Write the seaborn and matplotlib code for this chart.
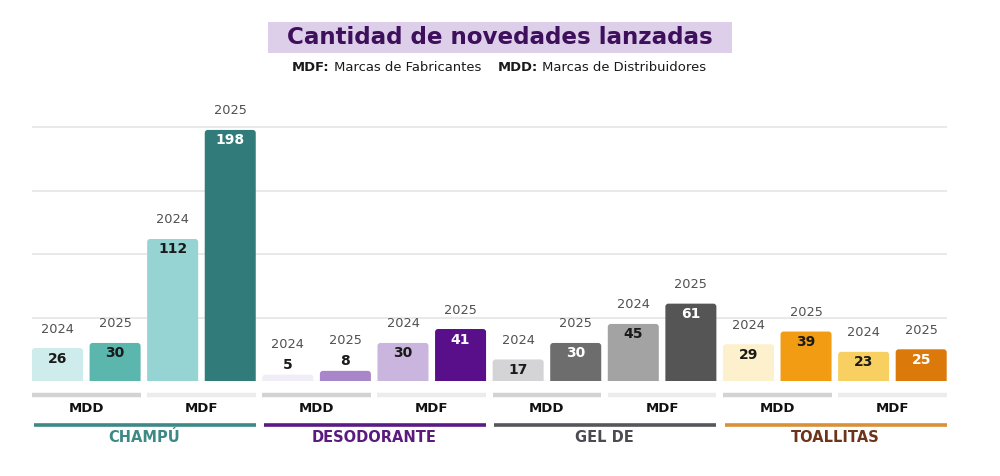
import matplotlib
matplotlib.use("Agg")
import matplotlib.pyplot as plt
import matplotlib.transforms as mtransforms
from matplotlib.patches import FancyBboxPatch
from matplotlib.colors import to_rgb
import seaborn as sns
import pandas as pd

# ---------------- data ----------------
categories = ["CHAMPÚ", "DESODORANTE", "GEL DE", "TOALLITAS"]
brands = ["MDD", "MDF"]
years = ["2024", "2025"]
champu = [26, 30, 112, 198]
desodorante = [5, 8, 30, 41]
gel = [17, 30, 45, 61]
toallitas = [29, 39, 23, 25]
series_values = [champu, desodorante, gel, toallitas]

title_text = "Cantidad de novedades lanzadas"
subtitle_parts = [("MDF:", "bold"), (" Marcas de Fabricantes", "normal"),
                  ("    ", "normal"),
                  ("MDD:", "bold"), (" Marcas de Distribuidores", "normal")]

# ---------------- styles ----------------
bar_colors = [
    "#cdeceb", "#5bb6ae", "#96d4d3", "#327b7b",
    "#f1edf6", "#a986c9", "#cab5de", "#5a0f8a",
    "#d4d4d6", "#6d6d6d", "#a3a3a3", "#555555",
    "#fdf0cc", "#f29c14", "#f8d062", "#db7a0a",
]
cat_line_colors = ["#3d8986", "#5b1a85", "#56565b", "#d8913a"]
cat_text_colors = ["#3d8986", "#5a1a7e", "#4b4b52", "#6e3419"]
brand_line_colors = ["#d3d3d3", "#ececec"]

rows = []
for ci, cat in enumerate(categories):
    for bi, br in enumerate(brands):
        for yi, yr in enumerate(years):
            rows.append({"id": f"{cat}|{br}|{yr}", "cat": cat, "brand": br,
                         "year": yr, "value": series_values[ci][bi * 2 + yi]})
df = pd.DataFrame(rows)
palette = dict(zip(df["id"], bar_colors))

sns.set_theme(style="white")
plt.rcParams["font.family"] = ["DejaVu Sans"]

W, H = 1000, 476
fig = plt.figure(figsize=(W / 100, H / 100), dpi=100)
fig.patch.set_facecolor("white")

left_px, right_px = 32, 946.7
base_px = 381
px_per_unit = 1.268
ytop = 220
ax = fig.add_axes([left_px / W, (H - base_px) / H, (right_px - left_px) / W,
                   ytop * px_per_unit / H])

bw = 0.886
sns.barplot(data=df, x="id", y="value", hue="id", palette=palette,
            width=bw, legend=False, ax=ax, saturation=1, order=list(df["id"]))
ax.set_xlim(-bw / 2, len(df) - 1 + bw / 2)
ax.set_ylim(0, ytop)
ax.set_yticks([50, 100, 150, 200])
ax.yaxis.grid(True, color="#e3e3e3", linewidth=1.1)
ax.set_axisbelow(True)
ax.axhline(0, color="#e8e8e8", linewidth=1, zorder=0)
for s in ax.spines.values():
    s.set_visible(False)
ax.set_xticks([])
ax.tick_params(axis="y", length=0, labelleft=False)
ax.set_xlabel("")
ax.set_ylabel("")

# rounded top corners: replace seaborn rectangles by rounded boxes (bottom clipped)
x_px_per_unit = (right_px - left_px) / (len(df) - 1 + bw)
r_px = 3.0
r_x = r_px / x_px_per_unit
aspect = (r_px / px_per_unit) / r_x
for p in list(ax.patches):
    x, y = p.get_x(), p.get_y()
    w, h = p.get_width(), p.get_height()
    fc = p.get_facecolor()
    ext = 6 / px_per_unit
    fb = FancyBboxPatch((x, y - ext), w, h + ext,
                        boxstyle=f"round,pad=0,rounding_size={r_x}",
                        mutation_aspect=aspect, facecolor=fc, edgecolor="none",
                        zorder=2)
    p.remove()
    ax.add_patch(fb)

def lum(c):
    r, g, b = to_rgb(c)
    f = lambda v: v / 12.92 if v <= 0.03928 else ((v + 0.055) / 1.055) ** 2.4
    return 0.2126 * f(r) + 0.7152 * f(g) + 0.0722 * f(b)

u_per_px = 1 / px_per_unit
for i, row in df.iterrows():
    v = row["value"]
    col = bar_colors[i]
    if v >= 10:
        tc = "white" if lum(col) < 0.35 else "#1a1a1a"
        ax.text(i, v - 10.5 * u_per_px, str(v), ha="center", va="center",
                fontsize=10, fontweight="bold", color=tc, zorder=3)
        ax.text(i, v + 19 * u_per_px, row["year"], ha="center", va="center",
                fontsize=9.3, color="#505050", zorder=3)
    else:
        ax.text(i, v + 10 * u_per_px, str(v), ha="center", va="center",
                fontsize=10, fontweight="bold", color="#1a1a1a", zorder=3)
        ax.text(i, v + 30 * u_per_px, row["year"], ha="center", va="center",
                fontsize=9.3, color="#505050", zorder=3)

# ---------------- lower labels ----------------
trans = mtransforms.blended_transform_factory(ax.transData, fig.transFigure)
fy = lambda px: 1 - px / H
for ci, cat in enumerate(categories):
    for bi, br in enumerate(brands):
        i0 = ci * 4 + bi * 2
        x0, x1 = i0 - bw / 2, i0 + 1 + bw / 2
        ax.plot([x0, x1], [fy(395), fy(395)], transform=trans, clip_on=False,
                color=brand_line_colors[bi], linewidth=3.2, solid_capstyle="butt")
        ax.text((x0 + x1) / 2, fy(408), br, transform=trans, ha="center",
                va="center", fontsize=9.5, fontweight="bold", color="#111111")
    x0, x1 = ci * 4 - bw / 2 + 0.03, ci * 4 + 3 + bw / 2
    ax.plot([x0, x1], [fy(425), fy(425)], transform=trans, clip_on=False,
            color=cat_line_colors[ci], linewidth=2.6, solid_capstyle="butt")
    ax.text((ci * 4 + ci * 4 + 3) / 2, fy(438), cat, transform=trans,
            ha="center", va="center", fontsize=10.5, fontweight="bold",
            color=cat_text_colors[ci])

# ---------------- title & subtitle ----------------
fig.patches.append(plt.Rectangle((268 / W, fy(53)), (732 - 268) / W, 31 / H,
                                 transform=fig.transFigure, facecolor="#ddcfea",
                                 edgecolor="none", zorder=0))
renderer = fig.canvas.get_renderer()
t = fig.text(0.5, fy(37.5), title_text, ha="center", va="center",
             fontsize=18, fontweight="bold", color="#3e105c")
wpx = t.get_window_extent(renderer).width
t.set_fontsize(18 * 428 / wpx)

def build_sub(fs):
    objs = []
    x = 0
    for txt, wt in subtitle_parts:
        o = fig.text(0, fy(68), txt, ha="left", va="center", fontsize=fs,
                     fontweight=wt, color="#1a1a1a")
        w = o.get_window_extent(renderer).width
        objs.append((o, x, w))
        x += w
    return objs, x

objs, total = build_sub(10)
for o, _, _ in objs:
    o.remove()
fs = 10 * 412 / total
objs, total = build_sub(fs)
start = 499 - total / 2
for o, x, w in objs:
    o.set_x((start + x) / W)

fig.savefig("out.png", dpi=100, facecolor="white")
